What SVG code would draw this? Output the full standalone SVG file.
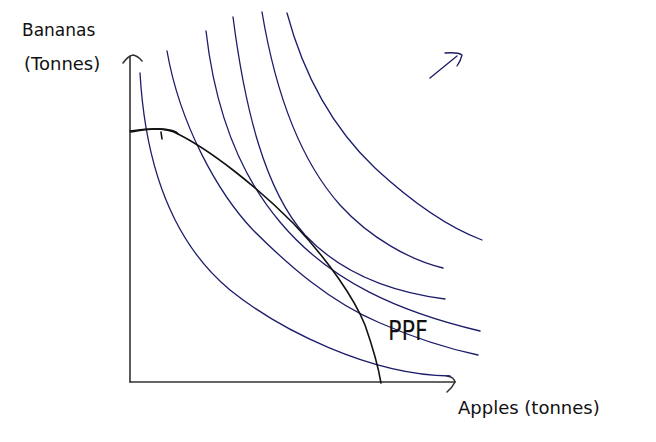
<svg xmlns="http://www.w3.org/2000/svg" width="656" height="442" viewBox="0 0 656 442">
<style>
.ic{fill:none;stroke:#1c1c6a;stroke-width:1.3;stroke-linecap:round}
.ax{fill:none;stroke:#333;stroke-width:1.6;stroke-linecap:round;stroke-linejoin:round}
.ppf{fill:none;stroke:#111;stroke-width:1.6;stroke-linecap:round;stroke-linejoin:round}
.lbl{font-family:"DejaVu Sans","Liberation Sans",sans-serif;fill:#111}
</style>
<rect width="656" height="442" fill="#fff"/>
<g id="axes">
<path class="ax" d="M130,382 L130,56"/>
<path class="ax" d="M123,63 Q128,56 133,55 Q138,56 142,61"/>
<path class="ax" d="M130,382 L455,382"/>
<path class="ax" d="M447,376 Q454,377 455,382 Q452,388 447,392"/>
</g>
<g id="connectors">
<path id="ic1" class="ic" d="M140,73 C145,160 170,240 230,290 C280,330 370,375 450,376"/>
<path id="ic2" class="ic" d="M167,51 C180,125 218,193 253,230 C288,265 330,302 380,323 C410,336 445,348 478,355"/>
<path id="ic3" class="ic" d="M206,31 C215,110 240,175 280,222 C330,282 400,312 480,331"/>
<path id="ic4" class="ic" d="M233,17 C245,110 265,190 305,235 C340,272 390,292 445,299"/>
<path id="ic5" class="ic" d="M262,12 C275,90 300,160 340,205 C370,238 410,260 443,268"/>
<path id="ic6" class="ic" d="M287,13 C305,80 335,130 375,168 C415,205 450,228 482,240"/>
<path id="arrow" class="ic" stroke-width="1.8" d="M430,78 L457,56 M445,53 Q458,52 462,55 Q461,60 457,66"/>
</g>
<g id="ppf">
<path class="ppf" d="M130,131 C150,128 168,128 178,134 C210,150 255,185 293,223 C330,262 355,300 365,325 C372,345 378,365 381,383"/>
<path class="ppf" stroke-width="2.4" d="M131,132 C145,129 160,128 170,130 Q178,132 178,134"/>
<path class="ppf" d="M161,132 L162,139"/>
</g>
<g id="labels">
<text class="lbl" x="22" y="36" font-size="17">Bananas</text>
<text class="lbl" x="24" y="70" font-size="18">(Tonnes)</text>
<text class="lbl" x="458" y="414" font-size="18">Apples (tonnes)</text>
<text class="lbl" x="388" y="340" font-size="26" textLength="40" lengthAdjust="spacingAndGlyphs">PPF</text>
</g>
</svg>
